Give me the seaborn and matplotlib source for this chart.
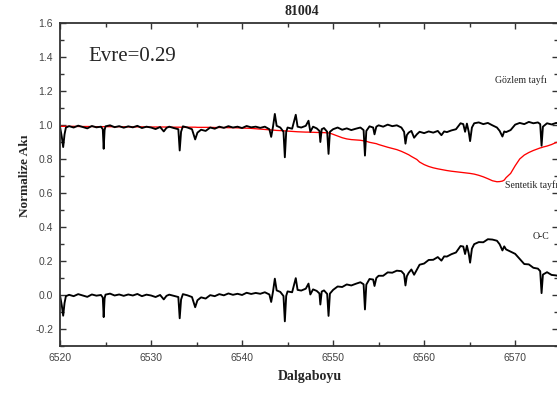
import matplotlib
matplotlib.use('Agg')
import matplotlib.pyplot as plt
import seaborn as sns
import numpy as np
from matplotlib.ticker import MultipleLocator

# ---- data ----
wavelength = [
    6520.0, 6520.2, 6520.35, 6520.5, 6520.65, 6521.0, 6521.5, 6522.0, 6522.5,
    6523.0, 6523.5, 6524.0, 6524.5, 6524.7, 6524.8, 6524.9, 6525.0, 6525.5, 6526.0,
    6526.5, 6527.0, 6527.5, 6528.0, 6528.5, 6529.0, 6529.5, 6530.0, 6530.5, 6531.0,
    6531.4, 6531.7, 6532.0, 6532.5, 6533.0, 6533.15, 6533.3, 6533.5, 6534.0, 6534.5,
    6534.85, 6535.1, 6535.5, 6536.0, 6536.5, 6537.0, 6537.5, 6538.0, 6538.5, 6539.0,
    6539.5, 6540.0, 6540.5, 6541.0, 6541.5, 6542.0, 6542.5, 6543.0, 6543.2, 6543.4,
    6543.6, 6543.8, 6544.2, 6544.55, 6544.7, 6544.85, 6545.0, 6545.5, 6545.9, 6546.1,
    6546.5, 6547.0, 6547.3, 6547.5, 6547.8, 6548.2, 6548.5, 6548.6, 6548.75, 6549.0,
    6549.35, 6549.5, 6549.65, 6550.0, 6550.5, 6551.0, 6551.5, 6552.0, 6552.5, 6553.0,
    6553.35, 6553.5, 6553.65, 6554.0, 6554.4, 6554.55, 6554.75, 6555.0, 6555.5, 6556.0,
    6556.5, 6557.0, 6557.5, 6557.8, 6557.95, 6558.1, 6558.3, 6558.6, 6558.9, 6559.2,
    6559.5, 6560.0, 6560.5, 6561.0, 6561.5, 6561.9, 6562.2, 6562.5, 6563.0, 6563.5,
    6564.0, 6564.3, 6564.5, 6564.7, 6564.9, 6565.05, 6565.25, 6565.5, 6566.0, 6566.5,
    6567.0, 6567.5, 6568.0, 6568.3, 6568.6, 6568.8, 6569.0, 6569.5, 6570.0, 6570.5,
    6571.0, 6571.5, 6572.0, 6572.5, 6572.75, 6572.9, 6573.05, 6573.5, 6574.0, 6574.5, 6575.0,
]

observed = [
    0.990, 0.930, 0.870, 0.945, 0.985, 0.993, 0.985, 0.996, 0.988,
    0.980, 0.994, 0.986, 0.990, 0.975, 0.860, 0.970, 0.992, 0.998, 0.987,
    0.993, 0.984, 0.992, 0.986, 0.995, 0.982, 0.990, 0.985, 0.976, 0.988,
    0.962, 0.983, 0.990, 0.982, 0.975, 0.850, 0.960, 0.992, 0.985, 0.975,
    0.915, 0.955, 0.972, 0.965, 0.985, 0.978, 0.990, 0.983, 0.993, 0.985,
    0.990, 0.982, 0.994, 0.986, 0.990, 0.983, 0.990, 0.975, 0.930, 0.990,
    1.065, 0.995, 0.985, 0.960, 0.810, 0.960, 0.985, 0.978, 1.060, 0.990,
    0.985, 0.995, 1.025, 0.960, 0.990, 0.980, 0.965, 0.900, 0.975, 0.982,
    0.960, 0.830, 0.960, 0.975, 0.985, 0.972, 0.980, 0.970, 0.978, 0.985,
    0.970, 0.820, 0.965, 0.992, 0.985, 0.945, 0.990, 0.998, 0.990, 1.002,
    0.993, 0.998, 0.985, 0.960, 0.890, 0.940, 0.955, 0.965, 0.925, 0.945,
    0.960, 0.952, 0.962, 0.955, 0.965, 0.940, 0.962, 0.958, 0.968, 0.975,
    1.010, 1.005, 0.960, 1.008, 0.960, 0.905, 0.985, 1.010, 1.015, 1.005,
    1.012, 0.998, 0.985, 0.965, 0.932, 0.962, 0.958, 0.970, 1.002, 1.012,
    1.005, 1.018, 1.010, 1.015, 1.005, 0.878, 0.990, 1.010, 1.003, 1.012, 1.008,
]

synthetic = [
    0.992, 0.992, 0.992, 0.992, 0.992, 0.992, 0.992, 0.991, 0.991,
    0.991, 0.991, 0.990, 0.990, 0.990, 0.990, 0.990, 0.990, 0.990, 0.990,
    0.990, 0.989, 0.989, 0.989, 0.989, 0.989, 0.988, 0.988, 0.988, 0.988,
    0.988, 0.988, 0.988, 0.987, 0.987, 0.987, 0.987, 0.987, 0.987, 0.987,
    0.987, 0.986, 0.986, 0.986, 0.986, 0.985, 0.985, 0.985, 0.984, 0.984,
    0.983, 0.982, 0.981, 0.980, 0.978, 0.976, 0.974, 0.972, 0.971, 0.970,
    0.969, 0.968, 0.967, 0.966, 0.965, 0.965, 0.964, 0.962, 0.961, 0.960,
    0.959, 0.958, 0.958, 0.957, 0.957, 0.956, 0.956, 0.956, 0.955, 0.955,
    0.954, 0.953, 0.952, 0.945, 0.935, 0.925, 0.918, 0.914, 0.912, 0.910,
    0.907, 0.905, 0.904, 0.898, 0.894, 0.892, 0.890, 0.885, 0.877, 0.869,
    0.862, 0.855, 0.845, 0.838, 0.834, 0.830, 0.825, 0.815, 0.806, 0.797,
    0.782, 0.767, 0.756, 0.748, 0.742, 0.738, 0.735, 0.732, 0.728, 0.725,
    0.722, 0.720, 0.719, 0.718, 0.716, 0.715, 0.713, 0.711, 0.704, 0.695,
    0.684, 0.672, 0.666, 0.667, 0.670, 0.676, 0.690, 0.715, 0.760, 0.800,
    0.823, 0.838, 0.850, 0.860, 0.865, 0.867, 0.870, 0.876, 0.885, 0.897, 0.900,
]

x_ticks = [6520, 6530, 6540, 6550, 6560, 6570]
y_ticks = [-0.2, 0.0, 0.2, 0.4, 0.6, 0.8, 1.0, 1.2, 1.4, 1.6]

wl = np.array(wavelength)
obs = np.array(observed)
syn = np.array(synthetic)
o_minus_c = obs - syn   # O-C residual: observed minus synthetic

# ---- styling ----
sns.set_style('ticks')
plt.rcParams['font.family'] = ['Liberation Sans', 'DejaVu Sans']
plt.rcParams['axes.unicode_minus'] = False

fig = plt.figure(figsize=(5.57, 3.96), dpi=100)
ax = fig.add_axes([0.1077, 0.1263, 0.894, 0.8157])

sns.lineplot(x=wl, y=syn, color='#ff0000', lw=0.95, ax=ax, estimator=None, sort=False)
sns.lineplot(x=wl, y=obs, color='black', lw=1.35, ax=ax, estimator=None, sort=False)
sns.lineplot(x=wl, y=o_minus_c, color='black', lw=1.35, ax=ax, estimator=None, sort=False)

ax.set_xlim(6520, 6574.7)
ax.set_ylim(-0.3, 1.6)
ax.set_xticks(x_ticks)
ax.set_yticks(y_ticks)
ax.set_xticklabels([str(t) for t in x_ticks])
ax.set_yticklabels([f'{t:.1f}' for t in y_ticks])
ax.xaxis.set_minor_locator(MultipleLocator(5))
ax.yaxis.set_minor_locator(MultipleLocator(0.1))

ax.tick_params(which='both', direction='in', top=True, right=True,
               color='#333333', width=1.0)
ax.tick_params(which='major', length=4.5, labelsize=7.5, labelcolor='#444444', pad=5)
ax.tick_params(which='minor', length=3)
for sp in ax.spines.values():
    sp.set_color('#333333')
    sp.set_linewidth(1.3)

serif = ['Liberation Serif', 'DejaVu Serif']
ax.set_xlabel('Dalgaboyu', fontfamily=serif, fontweight='bold', fontsize=10)
ax.set_ylabel('Normalize Akı', fontfamily=serif, fontweight='bold', fontsize=9.5)
ax.xaxis.set_label_coords(0.502, -0.075)
ax.yaxis.set_label_coords(-0.058, 0.528)

fig.text(302 / 557, 1 - 15 / 396, '81004', ha='center', va='baseline',
         fontfamily=serif, fontweight='bold', fontsize=10)

ax.text(6523.08, 1.376, 'Evre=0.29', fontfamily=serif, fontsize=15, va='baseline')
ax.text(6567.8, 1.247, 'Gözlem tayfı', fontfamily=serif, fontsize=7, va='baseline', color='#222222')
ax.text(6568.9, 0.629, 'Sentetik tayfı', fontfamily=serif, fontsize=7, va='baseline', color='#222222',
        clip_on=False)
ax.text(6571.9, 0.332, 'O-C', fontfamily=serif, fontsize=7, va='baseline', color='#222222')

fig.savefig('out.png', dpi=100)
